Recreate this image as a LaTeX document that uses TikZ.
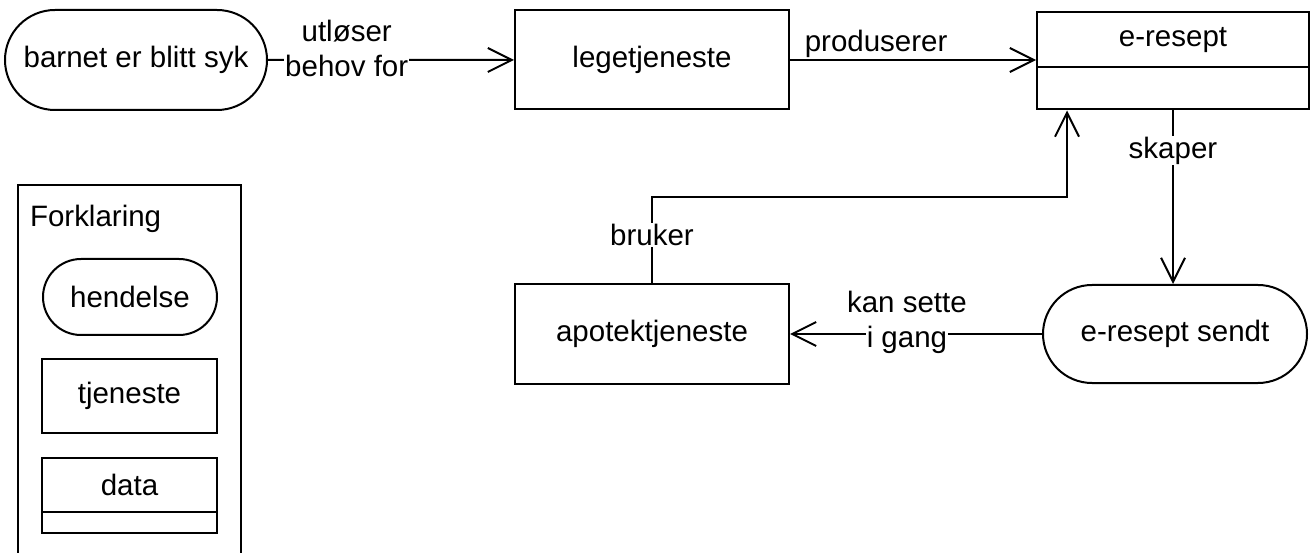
\documentclass[tikz,border=0pt]{standalone}
\usepackage{fontspec}
\setmainfont{Liberation Sans}
\usetikzlibrary{arrows.meta,shapes.misc}

\begin{document}
\begin{tikzpicture}[x=1pt, y=-1pt, line width=2pt,
	every node/.style={font=\fontsize{29.5}{35}\selectfont},
	event/.style={draw, rounded rectangle, inner sep=0pt},
	service/.style={draw, rectangle, inner sep=0pt},
	lbl/.style={fill=white, inner sep=1pt},
	arr/.style={-{Straight Barb[length=24pt, width=24pt]}}]
				\useasboundingbox (0,0) rectangle (1312,553);
				\node[event, minimum width=262pt, minimum height=100pt] (syk) at (136,60) {barnet er blitt syk};
				\node[service, minimum width=274pt, minimum height=99pt] (lege) at (652,60) {legetjeneste};
				\node[service, minimum width=272pt, minimum height=55pt] (eresept) at (1173,40) {e-resept};
				\node[service, minimum width=272pt, minimum height=42pt, anchor=north] (ereseptfelt) at ([yshift=2pt]eresept.south) {};
				\node[service, minimum width=274pt, minimum height=100pt] (apotek) at (652,334) {apotektjeneste};
				\node[event, minimum width=264pt, minimum height=98pt] (sendt) at (1175,334) {e-resept sendt};
				\coordinate (knekk) at (652,197);
				\draw[arr] (syk) -- node[lbl, pos=0.32, anchor=base, yshift=-17pt] (behov) {behov for} (lege);
				\node[anchor=base, inner sep=1pt] (utloeser) at ([yshift=35pt]behov.base) {utløser};
				\draw[arr] (lege) -- node[pos=0.35, anchor=base, yshift=8pt] (produserer) {produserer} (lege -| eresept.west);
				\draw[arr] (ereseptfelt.south) -- node[lbl, pos=0.23] (skaper) {skaper} (ereseptfelt.south |- sendt.north);
				\draw[arr] (sendt) -- node[lbl, pos=0.536, anchor=base, yshift=-14pt] (igang) {i gang} (apotek);
				\node[anchor=base, inner sep=1pt] (kansette) at ([yshift=35pt]igang.base) {kan sette};
				\draw[arr] (apotek) -- node[lbl, pos=0.56] (bruker) {bruker} (knekk) -| ([xshift=31pt]ereseptfelt.south west);
				\draw (18,553) -- (18,185) -- (241,185) -- (241,553);
				\node[anchor=base west, inner sep=0pt] (forklaring) at (29,227) {Forklaring};
				\node[event, minimum width=174pt, minimum height=76pt] (hendelse) at (130,297) {hendelse};
				\node[service, minimum width=175pt, minimum height=74pt] (tjeneste) at (129.5,396) {tjeneste};
				\node[service, minimum width=175pt, minimum height=54pt] (data) at (129.5,485) {data};
				\node[service, minimum width=175pt, minimum height=21pt, anchor=north] (datafelt) at ([yshift=2pt]data.south) {};
			\end{tikzpicture}
\end{document}
